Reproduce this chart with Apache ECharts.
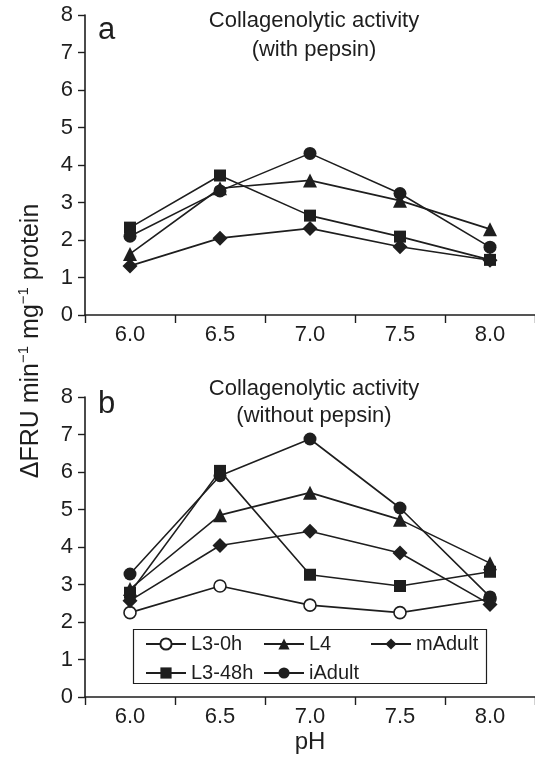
<!DOCTYPE html>
<html>
<head>
<meta charset="utf-8">
<style>html,body{margin:0;padding:0;background:#fff;}#c{width:535px;height:759px;}</style>
<script src="https://cdn.jsdelivr.net/npm/echarts@6/dist/echarts.min.js"></script>
</head>
<body>
<div id="c"></div>
<script>
var categories = ['6.0', '6.5', '7.0', '7.5', '8.0'];
var yTicks = [0, 1, 2, 3, 4, 5, 6, 7, 8];
// Panel a: with pepsin
var aL3_48h = [2.33, 3.72, 2.65, 2.09, 1.47];
var aL4     = [1.63, 3.38, 3.59, 3.05, 2.29];
var aIAdult = [2.10, 3.31, 4.31, 3.24, 1.81];
var aMAdult = [1.31, 2.05, 2.31, 1.82, 1.46];
// Panel b: without pepsin
var bL3_0h  = [2.25, 2.96, 2.45, 2.25, 2.62];
var bL3_48h = [2.78, 6.03, 3.26, 2.96, 3.34];
var bL4     = [2.88, 4.85, 5.45, 4.73, 3.57];
var bIAdult = [3.28, 5.90, 6.88, 5.04, 2.67];
var bMAdult = [2.57, 4.04, 4.42, 3.84, 2.47];

var INK = '#1e1e1e';
var FONT = 'Liberation Sans, Arial, Helvetica, sans-serif';

var chart = echarts.init(document.getElementById('c'), null, {renderer: 'canvas'});

function xAxis(grid) {
  return {
    type: 'category', gridIndex: grid, data: categories, boundaryGap: true,
    axisLine: {lineStyle: {color: INK, width: 1.6}},
    axisTick: {show: true, length: 8, inside: false, lineStyle: {color: INK, width: 1.4}},
    axisLabel: {color: INK, fontSize: 22, fontFamily: FONT, margin: 9},
    splitLine: {show: false}
  };
}
function yAxis(grid) {
  return {
    type: 'value', gridIndex: grid, min: yTicks[0], max: yTicks[yTicks.length - 1], interval: 1,
    axisLine: {show: true, lineStyle: {color: INK, width: 1.6}},
    axisTick: {show: true, length: 7, lineStyle: {color: INK, width: 1.4}},
    axisLabel: {color: INK, fontSize: 22, fontFamily: FONT, margin: 12},
    splitLine: {show: false}
  };
}
var sym = {
  'L3-0h':  {symbol: 'circle', size: 12, fill: '#fff'},
  'L3-48h': {symbol: 'rect', size: 12, fill: INK},
  'L4':     {symbol: 'triangle', size: 14, fill: INK},
  'iAdult': {symbol: 'circle', size: 13, fill: INK},
  'mAdult': {symbol: 'diamond', size: 15, fill: INK}
};
function ser(name, data, grid) {
  var s = sym[name];
  return {
    name: name, type: 'line', xAxisIndex: grid, yAxisIndex: grid, data: data,
    symbol: s.symbol, symbolSize: s.size, showSymbol: true,
    lineStyle: {color: INK, width: 1.6},
    itemStyle: {color: s.fill, borderColor: INK, borderWidth: name === 'L3-0h' ? 1.6 : 0},
    emphasis: {disabled: true}, animation: false, z: 3
  };
}
function leg(name, left, top) {
  return {
    data: [name], left: left, top: top, orient: 'horizontal', padding: 0,
    itemWidth: 40, itemHeight: 14, selectedMode: false,
    textStyle: {color: INK, fontSize: 20, fontFamily: FONT}
  };
}

var option = {
  backgroundColor: '#fff',
  animation: false,
  grid: [
    {left: 85, top: 15, width: 450, height: 300, containLabel: false},
    {left: 85, top: 397, width: 450, height: 300, containLabel: false}
  ],
  xAxis: [xAxis(0), xAxis(1)],
  yAxis: [yAxis(0), yAxis(1)],
  legend: [
    leg('L3-0h', 145, 634),
    leg('L4', 263, 634),
    leg('mAdult', 370, 634),
    leg('L3-48h', 145, 663),
    leg('iAdult', 263, 663)
  ],
  series: [
    ser('L3-48h', aL3_48h, 0),
    ser('L4', aL4, 0),
    ser('iAdult', aIAdult, 0),
    ser('mAdult', aMAdult, 0),
    ser('L3-0h', bL3_0h, 1),
    ser('L3-48h', bL3_48h, 1),
    ser('L4', bL4, 1),
    ser('iAdult', bIAdult, 1),
    ser('mAdult', bMAdult, 1)
  ],
  graphic: [
    {type: 'rect', shape: {x: 133.5, y: 629.5, width: 353, height: 54}, style: {fill: '#fff', stroke: INK, lineWidth: 1.2}, z: 1},
    {type: 'text', x: 314, y: 21, style: {text: 'Collagenolytic activity', fill: INK, font: '22px ' + FONT, align: 'center', verticalAlign: 'middle'}},
    {type: 'text', x: 314, y: 50, style: {text: '(with pepsin)', fill: INK, font: '22px ' + FONT, align: 'center', verticalAlign: 'middle'}},
    {type: 'text', x: 314, y: 389, style: {text: 'Collagenolytic activity', fill: INK, font: '22px ' + FONT, align: 'center', verticalAlign: 'middle'}},
    {type: 'text', x: 314, y: 416, style: {text: '(without pepsin)', fill: INK, font: '22px ' + FONT, align: 'center', verticalAlign: 'middle'}},
    {type: 'text', x: 98, y: 30, style: {text: 'a', fill: INK, font: '31px ' + FONT, align: 'left', verticalAlign: 'middle'}},
    {type: 'text', x: 98, y: 404, style: {text: 'b', fill: INK, font: '31px ' + FONT, align: 'left', verticalAlign: 'middle'}},
    {type: 'text', x: 310, y: 742, style: {text: 'pH', fill: INK, font: '24px ' + FONT, align: 'center', verticalAlign: 'middle'}},
    {type: 'text', x: 30, y: 341, rotation: Math.PI / 2,
      style: {
        text: '{n|ΔFRU min}{s|−1}{n| mg}{s|−1}{n| protein}',
        fill: INK, align: 'center', verticalAlign: 'middle',
        rich: {
          n: {fontSize: 25, fontFamily: FONT, fill: INK, verticalAlign: 'bottom', lineHeight: 28},
          s: {fontSize: 15, fontFamily: FONT, fill: INK, verticalAlign: 'top', lineHeight: 28}
        }
      }}
  ]
};
chart.setOption(option);
</script>
</body>
</html>
